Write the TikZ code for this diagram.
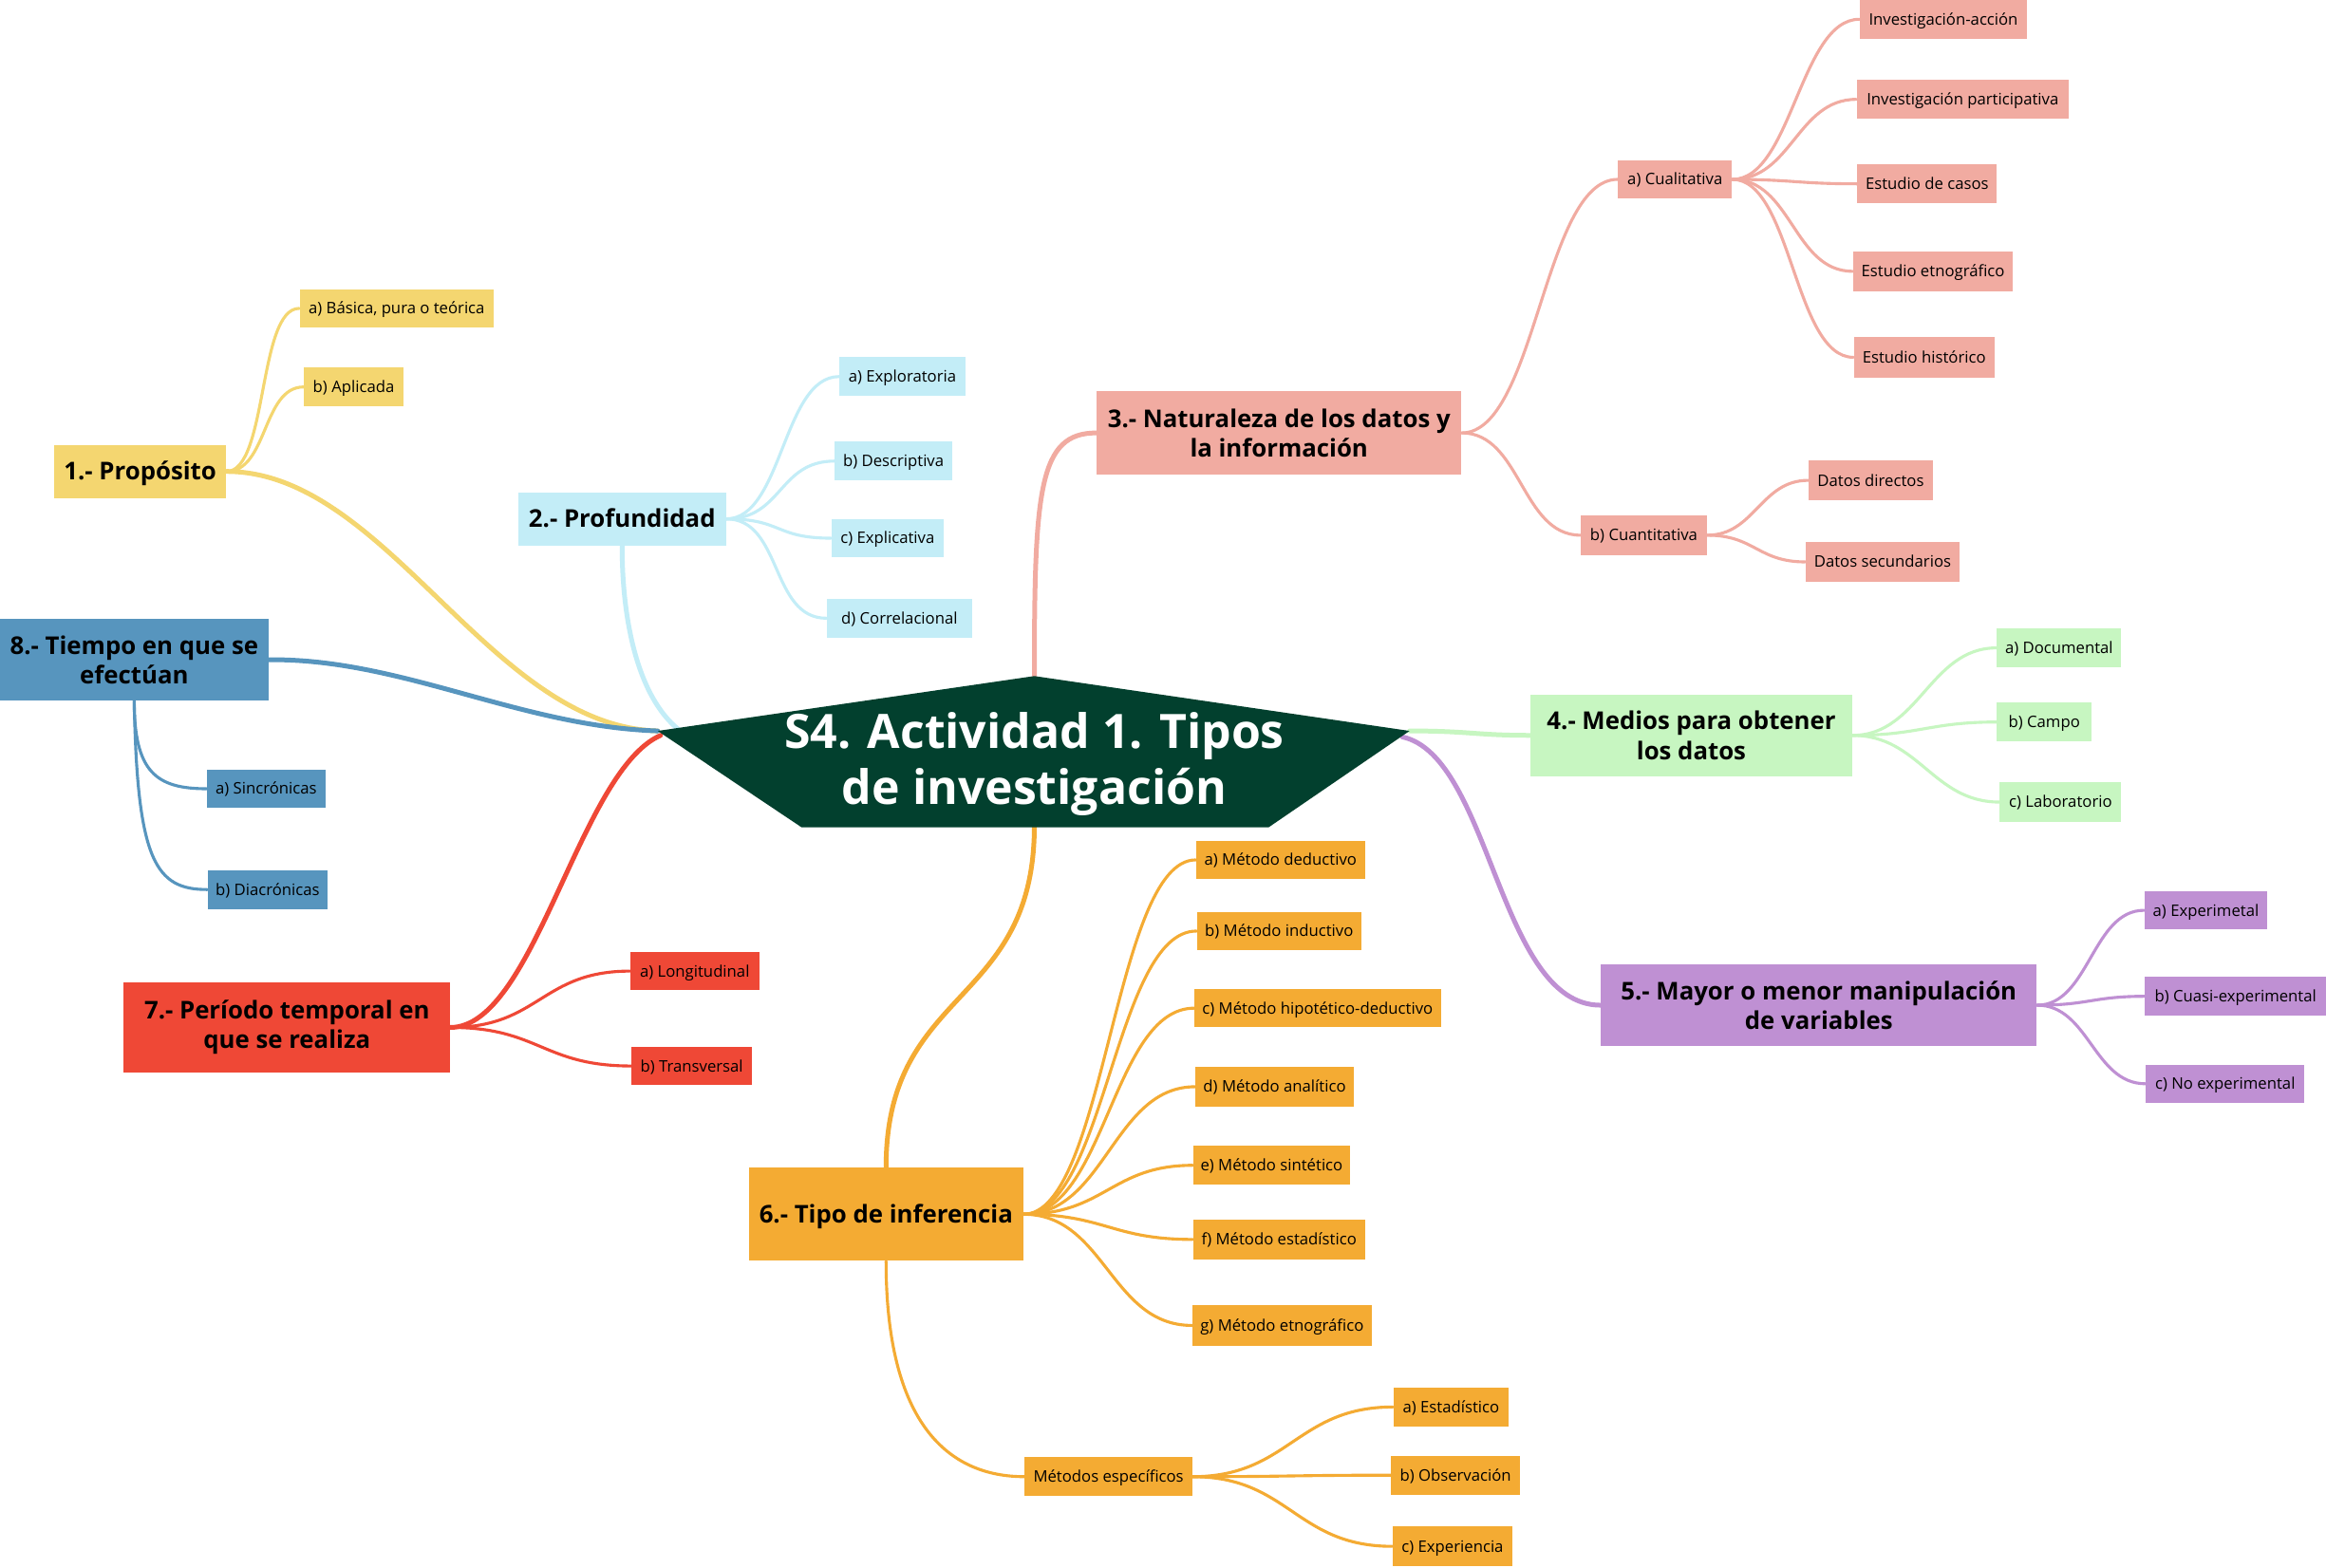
\documentclass[tikz,border=0pt]{standalone}
\usepackage{fontspec}
\setmainfont{Open Sans}
\usetikzlibrary{backgrounds}
\definecolor{cY}{HTML}{F4D670}
\definecolor{cLB}{HTML}{C3EDF7}
\definecolor{cS}{HTML}{F1ABA1}
\definecolor{cG}{HTML}{C7F6C1}
\definecolor{cP}{HTML}{BF90D3}
\definecolor{cO}{HTML}{F4AB33}
\definecolor{cR}{HTML}{EF4836}
\definecolor{cB}{HTML}{5795BE}
\definecolor{cD}{HTML}{02402E}
\begin{document}
\begin{tikzpicture}[x=1pt,y=-1pt,
  box/.style={rectangle, inner sep=0pt, align=center, text=black},
  sz/.style 2 args={minimum width=#1pt, minimum height=#2pt},
  sub/.style={box, font=\fontsize{10.7}{13}\selectfont,
    execute at begin node={\rule{0pt}{10.6pt}},
    execute at end node={\rule[-3pt]{0pt}{3pt}}},
  main/.style={box, font=\bfseries\fontsize{16.5}{20}\selectfont,
    execute at begin node={\rule{0pt}{16.3pt}},
    execute at end node={\rule[-4.5pt]{0pt}{4.5pt}}},
  mainii/.style={box, font=\bfseries\fontsize{16.5}{20}\selectfont},
  lk/.style={line width=2pt, line cap=round},
  mk/.style={line width=3.2pt, line cap=round},
]
% hub
\coordinate (hL) at (443,493);
\coordinate (hT) at (697,456);
\coordinate (hR) at (950,493);
\coordinate (hBR) at (855,558);
\coordinate (hBL) at (540,558);
\coordinate (hLb) at (457,492);
\coordinate (hL2) at (445,496);
\coordinate (hR2) at (945,497);
\coordinate (hB) at (697,557);
\fill[cD] (hL) -- (hT) -- (hR) -- (hBR) -- (hBL) -- cycle;
\node[box, text=white, font=\bfseries\fontsize{32}{38}\selectfont] (root) at (697,515.5) {S4. Actividad 1. Tipos\\de investigación};

% 1 yellow
\node[main, fill=cY, sz={116}{36}] (p1) at (94,318) {1.- Propósito};
\node[sub, fill=cY, sz={131}{26}] (p1a) at (267,208) {a) Básica, pura o teórica};
\node[sub, fill=cY, sz={67}{26}] (p1b) at (238,261) {b) Aplicada};
% 2 light blue
\node[main, fill=cLB, sz={140}{36}] (p2) at (419,350) {2.- Profundidad};
\node[sub, fill=cLB, sz={85}{26}] (p2a) at (608,254) {a) Exploratoria};
\node[sub, fill=cLB, sz={79}{26}] (p2b) at (602,311) {b) Descriptiva};
\node[sub, fill=cLB, sz={76}{26}] (p2c) at (598,363) {c) Explicativa};
\node[sub, fill=cLB, sz={98}{26}] (p2d) at (606,417) {d) Correlacional};
% 3 salmon
\node[mainii, fill=cS, sz={246}{56}] (p3) at (862,292) {3.- Naturaleza de los datos y\\la información};
\node[sub, fill=cS, sz={77}{26}] (cual) at (1129,121) {a) Cualitativa};
\node[sub, fill=cS, sz={113}{26}] (q1) at (1310,13) {Investigación-acción};
\node[sub, fill=cS, sz={143}{26}] (q2) at (1323,67) {Investigación participativa};
\node[sub, fill=cS, sz={94}{26}] (q3) at (1299,124) {Estudio de casos};
\node[sub, fill=cS, sz={108}{27}] (q4) at (1303,183) {Estudio etnográfico};
\node[sub, fill=cS, sz={95}{27}] (q5) at (1297,241) {Estudio histórico};
\node[sub, fill=cS, sz={85}{27}] (cuan) at (1108,361) {b) Cuantitativa};
\node[sub, fill=cS, sz={84}{27}] (d1) at (1261,324) {Datos directos};
\node[sub, fill=cS, sz={104}{27}] (d2) at (1269,379) {Datos secundarios};
% 4 green
\node[mainii, fill=cG, sz={217}{55}] (p4) at (1140,496) {4.- Medios para obtener\\los datos};
\node[sub, fill=cG, sz={84}{26}] (p4a) at (1388,437) {a) Documental};
\node[sub, fill=cG, sz={64}{26}] (p4b) at (1378,487) {b) Campo};
\node[sub, fill=cG, sz={82}{27}] (p4c) at (1389,541) {c) Laboratorio};
% 5 purple
\node[mainii, fill=cP, sz={294}{55}] (p5) at (1226,678) {5.- Mayor o menor manipulación\\de variables};
\node[sub, fill=cP, sz={83}{26}] (p5a) at (1487,614) {a) Experimetal};
\node[sub, fill=cP, sz={122}{26}] (p5b) at (1507,672) {b) Cuasi-experimental};
\node[sub, fill=cP, sz={107}{26}] (p5c) at (1500,731) {c) No experimental};
% 6 orange
\node[main, fill=cO, sz={185}{63}] (p6) at (597,819) {6.- Tipo de inferencia};
\node[sub, fill=cO, sz={114}{26}] (m1) at (863,580) {a) Método deductivo};
\node[sub, fill=cO, sz={111}{26}] (m2) at (862,628) {b) Método inductivo};
\node[sub, fill=cO, sz={166}{26}] (m3) at (888,680) {c) Método hipotético-deductivo};
\node[sub, fill=cO, sz={107}{27}] (m4) at (859,733) {d) Método analítico};
\node[sub, fill=cO, sz={106}{26}] (m5) at (857,786) {e) Método sintético};
\node[sub, fill=cO, sz={116}{27}] (m6) at (862,836) {f) Método estadístico};
\node[sub, fill=cO, sz={121}{27}] (m7) at (864,894) {g) Método etnográfico};
\node[sub, fill=cO, sz={113}{26}] (me) at (747,996) {Métodos específicos};
\node[sub, fill=cO, sz={78}{26}] (e1) at (978,949) {a) Estadístico};
\node[sub, fill=cO, sz={87}{26}] (e2) at (981,995) {b) Observación};
\node[sub, fill=cO, sz={81}{27}] (e3) at (979,1043) {c) Experiencia};
% 7 red
\node[mainii, fill=cR, sz={220}{61}] (p7) at (193,693) {7.- Período temporal en\\que se realiza};
\node[sub, fill=cR, sz={87}{26}] (p7a) at (468,655) {a) Longitudinal};
\node[sub, fill=cR, sz={81}{26}] (p7b) at (466,719) {b) Transversal};
% 8 blue
\node[mainii, fill=cB, sz={181}{55}] (p8) at (90,445) {8.- Tiempo en que se\\efectúan};
\node[sub, fill=cB, sz={80}{26}] (p8a) at (179,532) {a) Sincrónicas};
\node[sub, fill=cB, sz={81}{26}] (p8b) at (180,600) {b) Diacrónicas};

\begin{scope}[on background layer]
\fill[white] (0,0) rectangle (1568,1057);
\useasboundingbox (0,0) rectangle (1568,1057);
% main branches
\draw[mk, cY] (hL) .. controls (330,490) and (260,318) .. (p1.east);
\draw[mk, cB] (hL) .. controls (350,490) and (270,444) .. (p8.east);
\draw[mk, cLB] (hLb) .. controls (430,470) and (419,420) .. (p2.south);
\draw[mk, cR] (hL2) .. controls (390,520) and (360,693) .. (p7.east);
\draw[mk, cS] (hT) .. controls (697,330) and (700,292) .. (p3.west);
\draw[mk, cO] (hB) .. controls (697,680) and (597,665) .. (p6.north);
\draw[mk, cG] (hR) .. controls (990,493) and (995,496) .. (p4.west);
\draw[mk, cP] (hR2) .. controls (1005,510) and (1010,678) .. (p5.west);
% sub branches
\foreach \c in {p1a,p1b} \draw[lk, cY] (p1.east) .. controls +(28,0) and +(-28,0) .. (\c.west);
\foreach \c in {p2a,p2b,p2c,p2d} \draw[lk, cLB] (p2.east) .. controls +(38,0) and +(-38,0) .. (\c.west);
\draw[lk, cS] (p3.east) .. controls +(50,0) and +(-50,0) .. (cual.west);
\draw[lk, cS] (p3.east) .. controls +(40,0) and +(-40,0) .. (cuan.west);
\foreach \c in {q1,q2,q3,q4,q5} \draw[lk, cS] (cual.east) .. controls +(40,0) and +(-40,0) .. (\c.west);
\foreach \c in {d1,d2} \draw[lk, cS] (cuan.east) .. controls +(32,0) and +(-32,0) .. (\c.west);
\foreach \c in {p4a,p4b,p4c} \draw[lk, cG] (p4.east) .. controls +(45,0) and +(-45,0) .. (\c.west);
\foreach \c in {p5a,p5b,p5c} \draw[lk, cP] (p5.east) .. controls +(35,0) and +(-35,0) .. (\c.west);
\foreach \c in {m1,m2,m3,m4,m5,m6,m7} \draw[lk, cO] (p6.east) .. controls +(55,0) and +(-55,0) .. (\c.west);
\draw[lk, cO] (p6.south) .. controls +(0,110) and +(-51,0) .. (me.west);
\foreach \c in {e1,e2,e3} \draw[lk, cO] (me.east) .. controls +(65,0) and +(-65,0) .. (\c.west);
\foreach \c in {p7a,p7b} \draw[lk, cR] (p7.east) .. controls +(60,0) and +(-60,0) .. (\c.west);
\draw[lk, cB] (p8.south) .. controls +(0,48) and +(-34,0) .. (p8a.west);
\draw[lk, cB] (p8.south) .. controls +(2,108) and +(-35,0) .. (p8b.west);
\end{scope}
\end{tikzpicture}
\end{document}
